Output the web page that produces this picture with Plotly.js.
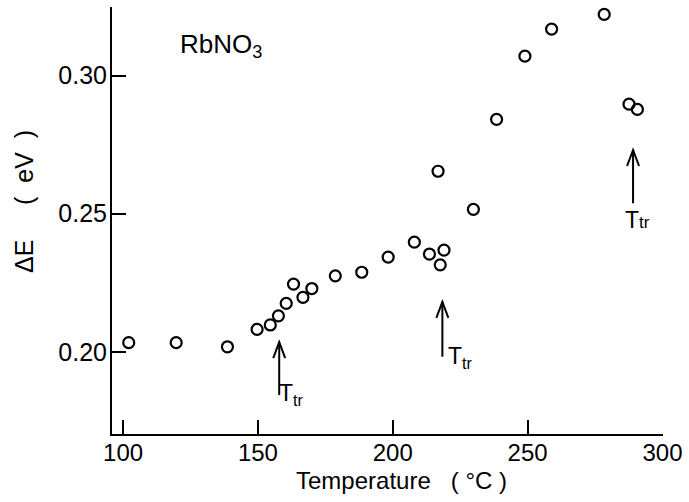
<!DOCTYPE html>
<html>
<head>
<meta charset="utf-8">
<script src="https://cdn.plot.ly/plotly-3.0.1.min.js"></script>
<style>
  html, body { margin: 0; padding: 0; background: #fff; }
  #chart { width: 689px; height: 502px; }
</style>
</head>
<body>
<div id="chart"></div>
<script>
// Data
const temps = [102.1, 119.7, 138.7, 149.7, 154.6, 157.6, 160.5, 163.2, 166.7, 170.0,
               178.7, 188.5, 198.3, 208.0, 213.6, 216.8, 217.6, 219.0, 229.9, 238.5,
               249.0, 258.9, 278.4, 287.6, 290.7];
const deltaE = [0.2033, 0.2033, 0.2018, 0.2081, 0.2097, 0.2130, 0.2175, 0.2245, 0.2197, 0.2229,
                0.2275, 0.2288, 0.2343, 0.2397, 0.2354, 0.2654, 0.2315, 0.2368, 0.2516, 0.2842,
                0.3071, 0.3169, 0.3222, 0.2897, 0.2878];

// Transition temperature arrows (x position, arrow tip, arrow base)
const ttrX = [157.9, 218.4, 289.1];
const ttrTip = [0.2035, 0.2181, 0.2731];
const ttrBase = [0.1843, 0.1982, 0.2538];
const ttrText = ['T<sub>tr</sub>', 'T<sub>tr</sub>', 'T<span style="font-size:17px">tr</span>'];

const xTickVals = [100, 150, 200, 250, 300];
const xTickText = ['100', '150', '200', '250', '300'];
const yTickVals = [0.20, 0.25, 0.30];
const yTickText = ['0.20', '0.25', '0.30'];

const xRange = [95.9, 300.2];
const yRange = [0.1702, 0.3249];

const FONT = 'Liberation Sans, Arial, sans-serif';

// geometry helpers for arrowheads (pixel sizes converted to data units)
const plotW = 689 - 112 - 26;
const plotH = 502 - 7 - 68;
const pxX = (xRange[1] - xRange[0]) / plotW;
const pxY = (yRange[1] - yRange[0]) / plotH;
const headHalf = 6, headLen = 16;

const shapes = [];
ttrX.forEach((x, i) => {
  shapes.push({type: 'line', xref: 'x', yref: 'y', x0: x, x1: x, y0: ttrBase[i], y1: ttrTip[i],
               line: {color: 'black', width: 2}});
  const p = 'M ' + (x - headHalf * pxX) + ' ' + (ttrTip[i] - headLen * pxY) +
            ' L ' + x + ' ' + ttrTip[i] +
            ' L ' + (x + headHalf * pxX) + ' ' + (ttrTip[i] - headLen * pxY);
  shapes.push({type: 'path', xref: 'x', yref: 'y', path: p, line: {color: 'black', width: 2}});
});

const labelOffsets = [
  {xanchor: 'left', xshift: -2, yanchor: 'top', yshift: 17},
  {xanchor: 'left', xshift: 4, yanchor: 'top', yshift: 16},
  {xanchor: 'center', xshift: 4, yanchor: 'top', yshift: -2}
];

const annotations = ttrX.map((x, i) => Object.assign({
  x: x, y: ttrBase[i], xref: 'x', yref: 'y', text: ttrText[i], showarrow: false,
  font: {family: FONT, size: 23, color: 'black'}
}, labelOffsets[i]));

annotations.push({
  xref: 'paper', yref: 'paper', x: 0.1198, y: 0.911, xanchor: 'left', yanchor: 'middle',
  text: 'RbNO<sub>3</sub>', showarrow: false, font: {family: FONT, size: 26, color: 'black'}
});
annotations.push({
  xref: 'paper', yref: 'paper', x: 0.5254, y: -0.109, xanchor: 'center', yanchor: 'middle',
  text: 'Temperature\u00a0\u00a0\u00a0(\u00a0\u00b0C\u00a0)', showarrow: false,
  font: {family: FONT, size: 24, color: 'black'}
});
annotations.push({
  xref: 'paper', yref: 'paper', x: -0.1597, y: 0.5433, xanchor: 'center', yanchor: 'middle',
  textangle: -90,
  text: '\u0394E\u00a0\u00a0\u00a0\u00a0\u00a0(\u00a0\u00a0eV\u00a0\u00a0)', showarrow: false,
  font: {family: FONT, size: 25, color: 'black'}
});

const trace = {
  x: temps, y: deltaE, type: 'scatter', mode: 'markers',
  marker: {symbol: 'circle-open', size: 11, color: 'black', line: {width: 2.2, color: 'black'}},
  cliponaxis: false, hoverinfo: 'skip'
};

const layout = {
  width: 689, height: 502,
  margin: {l: 112, r: 26, t: 7, b: 68},
  paper_bgcolor: 'white', plot_bgcolor: 'white',
  showlegend: false,
  font: {family: FONT, size: 25, color: 'black'},
  xaxis: {
    range: xRange, showgrid: false, zeroline: false,
    showline: true, linecolor: 'black', linewidth: 2,
    ticks: 'inside', ticklen: 14, tickwidth: 2, tickcolor: 'black',
    tickvals: xTickVals, ticktext: xTickText, ticklabelstandoff: -4,
    tickfont: {family: FONT, size: 24, color: 'black'}
  },
  yaxis: {
    range: yRange, showgrid: false, zeroline: false,
    showline: true, linecolor: 'black', linewidth: 2,
    ticks: 'inside', ticklen: 14, tickwidth: 2, tickcolor: 'black',
    tickvals: yTickVals, ticktext: yTickText, ticklabelstandoff: -2,
    tickfont: {family: FONT, size: 25, color: 'black'}
  },
  shapes: shapes,
  annotations: annotations
};

Plotly.newPlot('chart', [trace], layout, {staticPlot: true, displayModeBar: false});
</script>
</body>
</html>
